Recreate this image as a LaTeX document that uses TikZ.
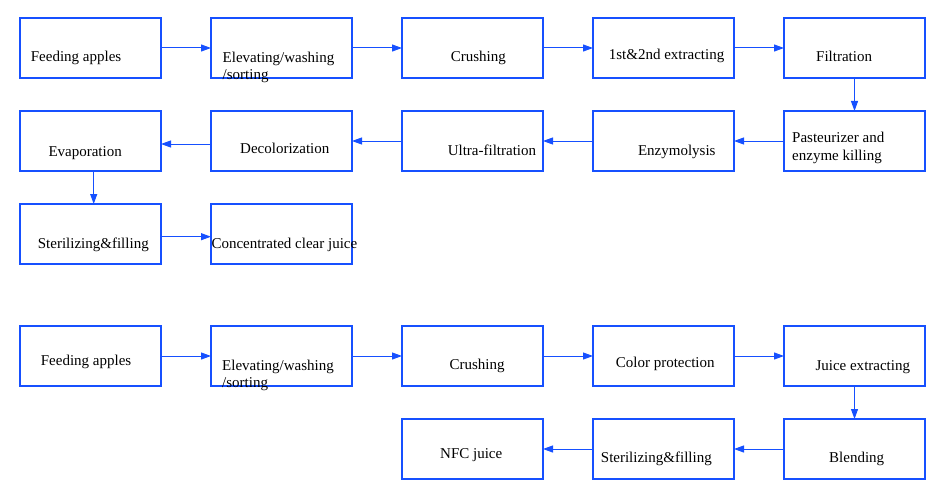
\documentclass[tikz,border=0pt]{standalone}
\usepackage{fontspec}
\setmainfont{Liberation Serif}
\usetikzlibrary{arrows.meta}
\definecolor{flowblue}{RGB}{22,80,255}
\tikzset{
  box/.style={draw=flowblue, line width=1.2pt, minimum width=141pt, minimum height=60pt, inner sep=0pt, outer sep=0pt},
  txt/.style={inner sep=0pt, anchor=base west, align=left, font=\fontsize{15}{17.5}\selectfont, text=black},
  arr/.style={draw=flowblue, line width=1pt, -{Triangle[length=10pt,width=7pt]}}
}
\begin{document}
\begin{tikzpicture}[x=1pt,y=-1pt]
\useasboundingbox (0,0) rectangle (949,500);
% first flow
\node[box] (a1) at (90.5,48) {};
\node[box] (a2) at (281.5,48) {};
\node[box] (a3) at (472.5,48) {};
\node[box] (a4) at (663.5,48) {};
\node[box] (a5) at (854.5,48) {};
\node[box] (a6) at (854.5,141) {};
\node[box] (a7) at (663.5,141) {};
\node[box] (a8) at (472.5,141) {};
\node[box] (a9) at (281.5,141) {};
\node[box] (a10) at (90.5,141) {};
\node[box] (a11) at (90.5,234) {};
\node[box] (a12) at (281.5,234) {};
\node[txt] (t1) at (30.7,61.7) {Feeding apples};
\node[txt] (t2) at (222.5,80) {Elevating/washing\\/sorting};
\node[txt] (t3) at (450.7,62) {Crushing};
\node[txt] (t4) at (608.7,60) {1st\&2nd extracting};
\node[txt] (t5) at (816,62) {Filtration};
\node[txt] (t6) at (792,160.5) {Pasteurizer and\\enzyme killing};
\node[txt] (t7) at (637.8,155) {Enzymolysis};
\node[txt] (t8) at (447.6,155) {Ultra-filtration};
\node[txt] (t9) at (240,153.3) {Decolorization};
\node[txt] (t10) at (48.3,156) {Evaporation};
\node[txt] (t11) at (37.7,248.3) {Sterilizing\&filling};
\node[txt] (t12) at (211.3,248.3) {Concentrated clear juice};
\draw[arr] (a1.east) -- (a2.west);
\draw[arr] (a2.east) -- (a3.west);
\draw[arr] (a3.east) -- (a4.west);
\draw[arr] (a4.east) -- (a5.west);
\draw[arr] (a5.south) -- (a6.north);
\draw[arr] (a6.west) -- (a7.east);
\draw[arr] (a7.west) -- (a8.east);
\draw[arr] (a8.west) -- (a9.east);
\draw[arr] ([yshift=-3pt]a9.west) -- ([yshift=-3pt]a10.east);
\draw[arr] ([xshift=3.2pt]a10.south) -- ([xshift=3.2pt]a11.north);
\draw[arr] ([yshift=-2.7pt]a11.east) -- ([yshift=-2.7pt]a12.west);
% second flow
\node[box] (b1) at (90.5,356) {};
\node[box] (b2) at (281.5,356) {};
\node[box] (b3) at (472.5,356) {};
\node[box] (b4) at (663.5,356) {};
\node[box] (b5) at (854.5,356) {};
\node[box] (b6) at (854.5,449) {};
\node[box] (b7) at (663.5,449) {};
\node[box] (b8) at (472.5,449) {};
\node[txt] (u1) at (40.7,365.7) {Feeding apples};
\node[txt] (u2) at (222,387.5) {Elevating/washing\\/sorting};
\node[txt] (u3) at (449.3,369.3) {Crushing};
\node[txt] (u4) at (615.7,367.7) {Color protection};
\node[txt] (u5) at (815.3,370) {Juice extracting};
\node[txt] (u6) at (829,462.7) {Blending};
\node[txt] (u7) at (600.7,462.7) {Sterilizing\&filling};
\node[txt] (u8) at (440,458.7) {NFC juice};
\draw[arr] (b1.east) -- (b2.west);
\draw[arr] (b2.east) -- (b3.west);
\draw[arr] (b3.east) -- (b4.west);
\draw[arr] (b4.east) -- (b5.west);
\draw[arr] (b5.south) -- (b6.north);
\draw[arr] (b6.west) -- (b7.east);
\draw[arr] (b7.west) -- (b8.east);
\end{tikzpicture}
\end{document}
